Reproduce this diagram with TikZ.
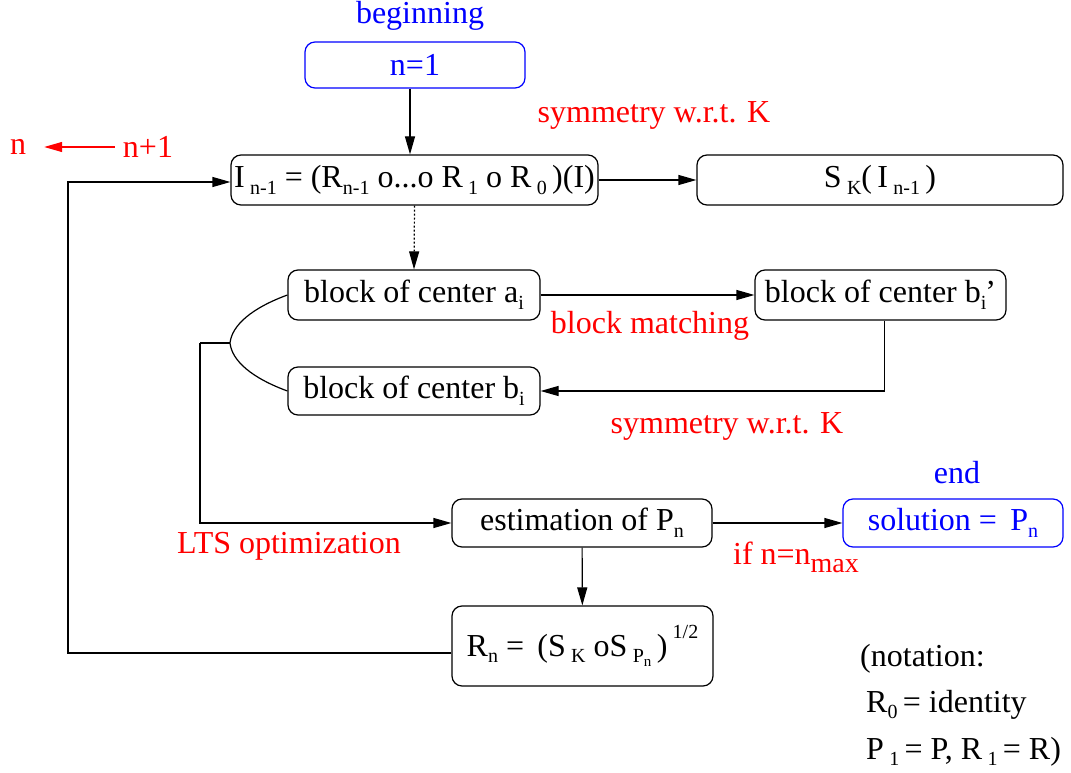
\documentclass[tikz,border=0pt]{standalone}
\usepackage{fontspec}
\setmainfont{Liberation Serif}
\usetikzlibrary{
  arrows.meta,
  positioning,
  calc
}
\newcommand{\lowtxt}[1]{\raisebox{-0.45ex}{\fontsize{20}{20}\selectfont #1}}
\newcommand{\tinylow}[1]{\raisebox{-0.4ex}{\fontsize{15}{15}\selectfont #1}}
\newcommand{\hightxt}[1]{\raisebox{1.2ex}{\fontsize{20}{20}\selectfont #1}}

\begin{document}
\begin{tikzpicture}[
      x=1pt, y=-1pt,
      font=\rmfamily\fontsize{32}{38}\selectfont,
      box/.style={
        rectangle, rounded corners=10pt,
        minimum height=48pt, inner sep=0pt,
        draw=black, line width=1.2pt, align=center
      },
      endbox/.style={box, draw=blue, text=blue},
      note/.style={inner sep=0pt, text=red},
      tag/.style={inner sep=0pt, text=blue},
      arrow/.style={-{Triangle[length=18pt, width=10pt]}, line width=1.2pt},
      link/.style={line width=1.2pt}
    ]
      \useasboundingbox (0,0) rectangle (1071,773);

      % Start and current image
      \node[endbox, minimum width=220pt, minimum height=46pt] (start) at (415,65) {n=1};
      \node[tag] (beglbl) at (420,16) {beginning};
      \node[box, minimum width=367pt, minimum height=50pt] (img) at (414.5,180)
        {I\,\lowtxt{n-1} = (R\lowtxt{n-1} o...o R\,\lowtxt{1} o R\,\lowtxt{0}\,)(I)};
      \node[box, minimum width=366pt, minimum height=50pt] (sym) at (880,180)
        {S\,\lowtxt{K}(\,I\,\lowtxt{n-1}\,)};
      \node[note] (symlbl) at (654,115) {symmetry w.r.t. K};

      % Counter update
      \node[note] (nold) at (18,147) {n};
      \node[note] (nnew) at (148,147) {n+1};

      % Blocks
      \node[box, minimum width=252pt, minimum height=50pt] (blka) at (414,295) {block of center a\lowtxt{i}};
      \node[box, minimum width=251pt, minimum height=50pt] (blkc) at (880.5,295)
        {block of center b\lowtxt{i}\kern-1pt’};
      \node[box, minimum width=252pt, minimum height=48pt] (blkb) at (414,391) {block of center b\lowtxt{i}};
      \node[note] (matchlbl) at (650,326) {block matching};
      \node[note] (sym2lbl) at (727,426) {symmetry w.r.t. K};

      % Estimation
      \node[box, minimum width=260pt] (est) at (582,523) {estimation of P\lowtxt{n}};
      \node[endbox, minimum width=220pt] (sol) at (953,523) {solution = \,P\lowtxt{n}};
      \node[tag] (endlbl) at (957,473) {end};
      \node[note] (ltslbl) at (289,546) {LTS optimization};
      \node[note] (stoplbl) at (796,557) {if n=n\raisebox{-0.55ex}{\fontsize{28}{28}\selectfont max}};
      \node[box, minimum width=261pt, minimum height=80pt] (rot) at (582.5,646)
        {R\lowtxt{n} = \,(S\,\lowtxt{K} oS\,\lowtxt{P\tinylow{n}}\,)\,\hightxt{1/2}};

      % Notation
      \node[anchor=base west, inner sep=0pt] (nota) at (860,666) {(notation:};
      \node[anchor=base west, inner sep=0pt] (notb) at (866,712) {R\lowtxt{0}\,= identity};
      \node[anchor=base west, inner sep=0pt] (notc) at (866,759) {P\,\lowtxt{1}\,= P, R\,\lowtxt{1}\,= R)};

      % Junctions
      \coordinate (fork) at (230,343);
      \coordinate (bend) at (200,343);
      \coordinate (loop) at (68,653);

      % Arrows
      \draw[arrow] (start.south -| 410,0) -- (img.north -| 410,0);
      \draw[arrow] (img) -- (sym);
      \draw[arrow, red, shorten <=8pt, shorten >=18pt] (nnew.west) -- (nold.east);
      \draw[arrow, dash pattern=on 2pt off 2pt] (img.south) -- (blka.north);
      \draw[arrow] (blka) -- (blkc);
      \draw[arrow] ([xshift=4pt]blkc.south) |- (blkb.east);
      \draw[link] (blka.west) .. controls (252,308) and (232,325) .. (fork)
                  .. controls (232,361) and (252,378) .. (blkb.west);
      \draw[link] (fork) -- (bend);
      \draw[arrow] (bend) |- (est.west);
      \draw[arrow] (est) -- (sol);
      \draw[arrow] (est) -- (rot);
      \draw[arrow] ([yshift=-7pt]rot.west) -- (loop) |- ([yshift=-2pt]img.west);
    \end{tikzpicture}
\end{document}
